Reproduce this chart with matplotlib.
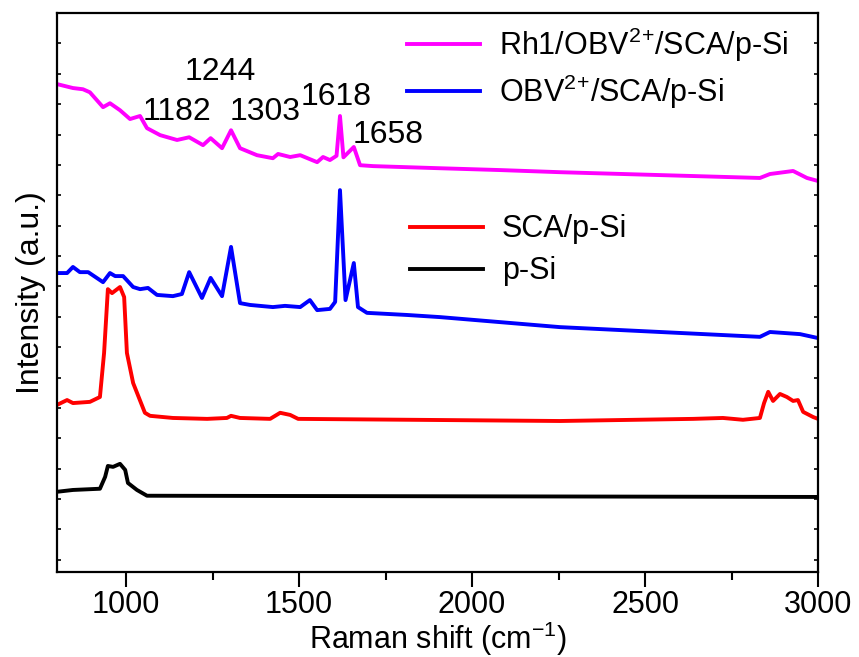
import numpy as np
import matplotlib
matplotlib.use('Agg')
import matplotlib.pyplot as plt
from matplotlib.ticker import MultipleLocator

# Raman spectra, offset vertically (arbitrary units)
x_rh1 = [800, 846, 875, 895, 933, 953, 982, 1011, 1040, 1060, 1098, 1147, 1182, 1222,
         1244, 1277, 1303, 1329, 1378, 1424, 1439, 1474, 1503, 1552, 1569, 1589, 1608,
         1618, 1628, 1658, 1676, 1714, 1907, 2081, 2254, 2832, 2861, 2928, 2968, 3000]
y_rh1 = [15.66, 15.53, 15.49, 15.39, 14.90, 15.03, 14.80, 14.51, 14.61, 14.21, 13.98,
         13.82, 13.91, 13.65, 13.88, 13.55, 14.14, 13.55, 13.32, 13.22, 13.36, 13.26,
         13.32, 13.09, 13.26, 13.16, 13.30, 14.61, 13.25, 13.59, 12.99, 12.96, 12.89,
         12.83, 12.76, 12.57, 12.70, 12.80, 12.57, 12.47]

x_obv = [800, 829, 846, 866, 890, 933, 953, 968, 991, 1020, 1040, 1063, 1089, 1135, 1161,
         1182, 1219, 1244, 1277, 1303, 1329, 1358, 1424, 1459, 1503, 1531, 1552, 1589,
         1604, 1618, 1634, 1658, 1670, 1696, 1812, 1907, 2254, 2832, 2861, 2948, 3000]
y_obv = [9.44, 9.44, 9.64, 9.47, 9.47, 9.14, 9.44, 9.34, 9.34, 8.98, 8.91, 8.95, 8.72,
         8.68, 8.75, 9.47, 8.62, 9.28, 8.68, 10.30, 8.45, 8.39, 8.32, 8.36, 8.32, 8.55,
         8.22, 8.26, 8.49, 12.17, 8.55, 9.77, 8.32, 8.13, 8.06, 7.99, 7.66, 7.34, 7.50,
         7.43, 7.30]

x_sca = [800, 829, 846, 895, 924, 936, 947, 959, 982, 994, 1002, 1020, 1054, 1069, 1135,
         1234, 1291, 1303, 1329, 1416, 1445, 1474, 1497, 2254, 2639, 2725, 2783, 2832,
         2844, 2856, 2870, 2890, 2910, 2928, 2942, 2957, 2986, 3000]
y_sca = [5.10, 5.26, 5.16, 5.20, 5.36, 6.81, 8.91, 8.78, 8.98, 8.65, 6.81, 5.82, 4.84,
         4.74, 4.67, 4.64, 4.67, 4.74, 4.67, 4.64, 4.84, 4.77, 4.64, 4.57, 4.64, 4.67,
         4.61, 4.67, 5.16, 5.53, 5.23, 5.46, 5.36, 5.23, 5.26, 4.87, 4.70, 4.64]

x_psi = [800, 846, 924, 939, 947, 962, 982, 997, 1005, 1031, 1060, 3000]
y_psi = [2.24, 2.30, 2.34, 2.73, 3.09, 3.06, 3.16, 2.96, 2.53, 2.30, 2.11, 2.07]

peaks = [1182, 1244, 1303, 1618, 1658]

plt.rcParams['font.family'] = ['Liberation Sans', 'DejaVu Sans']
plt.rcParams['mathtext.fontset'] = 'custom'
plt.rcParams['mathtext.rm'] = 'Liberation Sans'
plt.rcParams['mathtext.default'] = 'regular'

fig = plt.figure(figsize=(8.59, 6.57), dpi=100)
ax = fig.add_axes([0.0664, 0.1294, 0.8859, 0.8508])

lw = 2.8
l1, = ax.plot(x_rh1, y_rh1, color='#ff00ff', lw=lw, label='Rh1/OBV$^{2}$$^{+}$/SCA/p-Si')
l2, = ax.plot(x_obv, y_obv, color='#0000ff', lw=lw, label='OBV$^{2}$$^{+}$/SCA/p-Si')
l3, = ax.plot(x_sca, y_sca, color='#ff0000', lw=lw, label='SCA/p-Si')
l4, = ax.plot(x_psi, y_psi, color='black', lw=lw, label='p-Si')

# peak labels for the Rh1 spectrum
label_pos = {1182: (1147, 14.74), 1244: (1271, 16.05), 1303: (1401, 14.74),
             1618: (1607, 15.23), 1658: (1757, 13.98)}
for p in peaks:
    tx, ty = label_pos[p]
    ax.text(tx, ty, str(p), fontsize=23, ha='center', va='center')

ax.set_xlim(800, 3000)
ax.set_ylim(-0.4, 18.0)
ax.xaxis.set_major_locator(MultipleLocator(500))
ax.xaxis.set_minor_locator(MultipleLocator(250))
ax.set_yticks(np.arange(0, 18))
ax.tick_params(axis='x', which='major', direction='out', length=11, width=1.5,
               top=False, labelsize=22, pad=2)
ax.tick_params(axis='x', which='minor', direction='out', length=6, width=1.5, top=False)
ax.tick_params(axis='y', direction='in', length=3, width=1.2, left=True, right=True,
               labelleft=False)
for s in ax.spines.values():
    s.set_linewidth(1.6)

ax.set_xlabel('Raman shift (cm$^{-1}$)', fontsize=22, labelpad=0)
ax.set_ylabel('Intensity (a.u.)', fontsize=23, labelpad=8)

leg1 = ax.legend(handles=[l1, l2], loc='upper left', bbox_to_anchor=(0.46, 0.978),
                 frameon=False, fontsize=22, handlelength=2.4, handletextpad=0.6,
                 labelspacing=0.3, borderpad=0, borderaxespad=0)
ax.add_artist(leg1)
ax.legend(handles=[l3, l4], loc='upper left', bbox_to_anchor=(0.464, 0.64),
          frameon=False, fontsize=22, handlelength=2.4, handletextpad=0.6,
          labelspacing=0.4, borderpad=0, borderaxespad=0)

fig.savefig('out.png', dpi=100)
